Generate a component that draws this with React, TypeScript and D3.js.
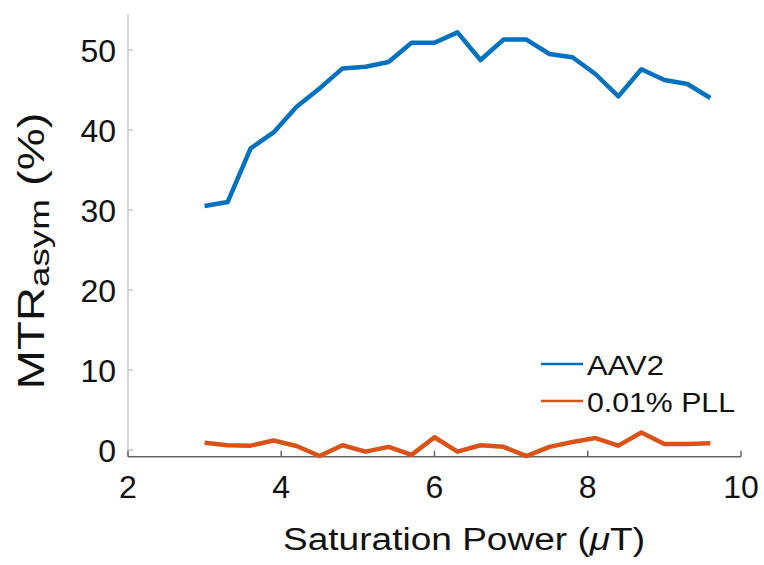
import React from "react";
import * as d3 from "d3";

const power = [3.0, 3.3, 3.6, 3.9, 4.2, 4.5, 4.8, 5.1, 5.4, 5.7, 6.0, 6.3, 6.6, 6.9, 7.2, 7.5, 7.8, 8.1, 8.4, 8.7, 9.0, 9.3, 9.6];
const aav2 = [30.5, 31.0, 37.7, 39.7, 42.9, 45.2, 47.7, 47.9, 48.5, 50.9, 50.9, 52.2, 48.75, 51.3, 51.3, 49.5, 49.1, 47.0, 44.2, 47.6, 46.25, 45.75, 44.0];
const pll = [0.9, 0.6, 0.55, 1.2, 0.5, -0.75, 0.6, -0.2, 0.4, -0.6, 1.6, -0.2, 0.6, 0.4, -0.75, 0.4, 1.0, 1.5, 0.55, 2.2, 0.75, 0.75, 0.85];
const xTicks = [2, 4, 6, 8, 10];
const yTicks = [0, 10, 20, 30, 40, 50];
const seriesNames = ["AAV2", "0.01% PLL"];
const colors = ["#0072BD", "#D95319"];

const W = 764;
const H = 565;
const font = "'Liberation Sans', Arial, Helvetica, sans-serif";
// legend label widths
const legendWidths = [77, 148];

export default function App() {
  const x = d3.scaleLinear().domain([2, 10]).range([128, 741]);
  const y = d3.scaleLinear().domain([-0.83, 54.5]).range([456.7, 14]);

  const line = d3
    .line<number>()
    .x((_, i) => x(power[i]))
    .y((d) => y(d));

  const series = [aav2, pll];

  return (
    <svg
      width={W}
      height={H}
      style={{ position: "absolute", left: 0, top: 0, background: "#fff" }}
      fontFamily={font}
    >
      {/* y axis */}
      <line x1={x(2)} x2={x(2)} y1={y.range()[0]} y2={y.range()[1]} stroke="#c8c8c8" strokeWidth={1.5} />
      {yTicks.map((t) => (
        <g key={t}>
          <line x1={x(2)} x2={x(2) + 5} y1={y(t)} y2={y(t)} stroke="#c8c8c8" strokeWidth={1.5} />
          <text x={116} y={y(t)} dy="0.36em" textAnchor="end" fontSize={32} fill="#111">
            {t}
          </text>
        </g>
      ))}

      {/* x axis */}
      <line x1={x(2)} x2={x(10)} y1={y.range()[0]} y2={y.range()[0]} stroke="#666" strokeWidth={1.5} />
      {xTicks.map((t) => (
        <g key={t}>
          <line x1={x(t)} x2={x(t)} y1={y.range()[0]} y2={y.range()[0] - 6} stroke="#666" strokeWidth={1.5} />
          <text x={x(t)} y={498} textAnchor="middle" fontSize={32} fill="#111">
            {t}
          </text>
        </g>
      ))}

      {series.map((s, i) => (
        <path
          key={i}
          d={line(s) || ""}
          fill="none"
          stroke={colors[i]}
          strokeWidth={4.5}
          strokeLinejoin="round"
        />
      ))}

      {/* legend */}
      {seriesNames.map((n, i) => (
        <g key={n}>
          <line x1={541} x2={583} y1={364 + i * 37} y2={364 + i * 37} stroke={colors[i]} strokeWidth={2.5} />
          <text
            x={587}
            y={375 + i * 37}
            fontSize={28}
            fill="#111"
            textLength={legendWidths[i]}
            lengthAdjust="spacingAndGlyphs"
          >
            {n}
          </text>
        </g>
      ))}

      {/* axis titles */}
      <text
        x={464}
        y={550}
        textAnchor="middle"
        fontSize={31}
        fill="#111"
        textLength={362}
        lengthAdjust="spacingAndGlyphs"
      >
        Saturation Power (<tspan fontStyle="italic">μ</tspan>T)
      </text>
      <text
        transform="translate(44,251) rotate(-90)"
        textAnchor="middle"
        fontSize={36}
        fill="#111"
        textLength={277}
        lengthAdjust="spacingAndGlyphs"
      >
        MTR<tspan fontSize={28} dy={5}>asym</tspan><tspan dy={-5}> (%)</tspan>
      </text>
    </svg>
  );
}
